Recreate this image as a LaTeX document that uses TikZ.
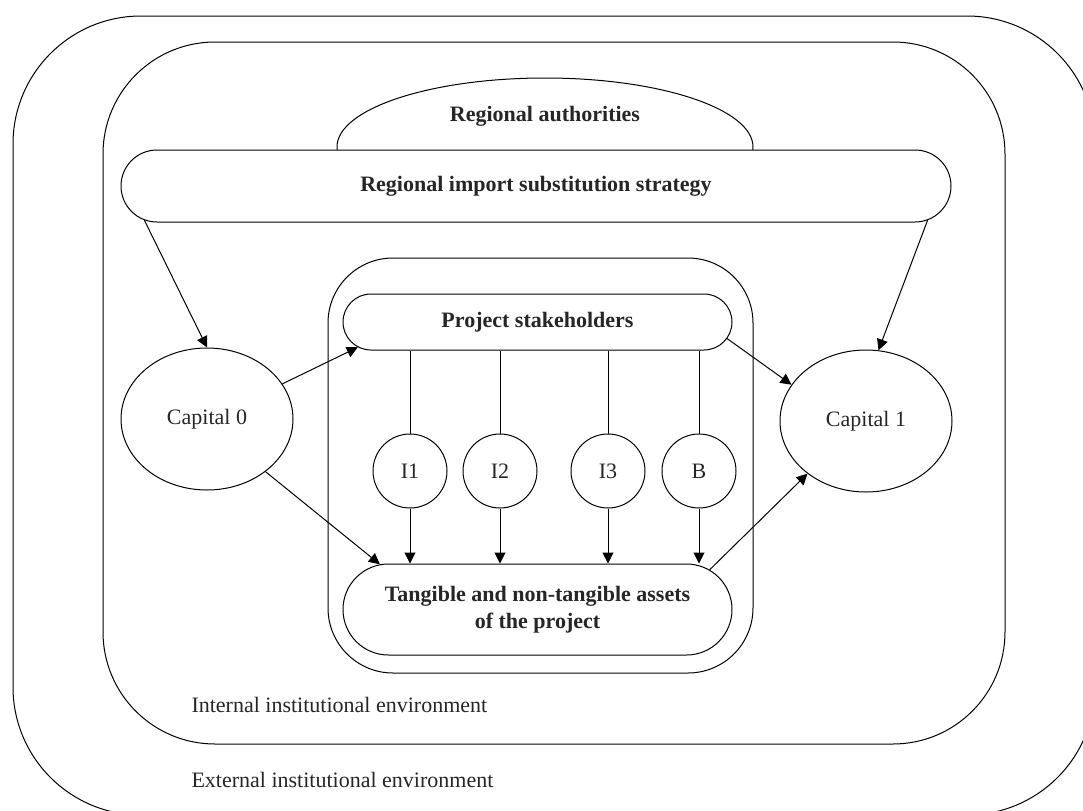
\documentclass[tikz,border=0pt]{standalone}
\usepackage{fontspec}
\setmainfont{Liberation Serif}
\usetikzlibrary{arrows.meta}
\usetikzlibrary{shapes.geometric}
\usetikzlibrary{shapes.misc}
\newcommand{\diagfont}{\fontsize{16.5}{20.25}\selectfont}
\tikzset{every picture/.style={line width=0.75pt}}
\tikzset{
  pill/.style={rounded rectangle, draw, fill=white, inner sep=0pt, align=center, font=\bfseries\diagfont, text=black!85},
  capital/.style={ellipse, draw, inner sep=0pt, minimum width=129pt, minimum height=106.5pt, font=\diagfont, text=black!85},
  actor/.style={circle, draw, inner sep=0pt, minimum size=55.5pt, font=\diagfont, text=black!85},
  plain/.style={inner sep=0.75pt, font=\diagfont, text=black!85},
  flow/.style={-{Triangle[length=8.25pt,width=8.25pt]}}
}

\begin{document}
\begin{tikzpicture}[x=0.75pt,y=0.75pt,yscale=-1,xscale=1]
\useasboundingbox (0,0) rectangle (1083,811);
\clip (0,0) rectangle (1083,811);

%Rounded Rect: external environment
\draw [rounded corners=96pt] (13,16) rectangle (1095,815);
%Rounded Rect: internal environment
\draw [rounded corners=84pt] (103,42) rectangle (1005,744);
%Shape: Ellipse
\node [ellipse, draw, inner sep=0pt, minimum width=312pt, minimum height=103.5pt] (auth) at (545,147) {};
%Rounded Rect: strategy
\node [pill, minimum width=622.5pt, minimum height=54pt] (strat) at (536,186) {Regional import substitution strategy};
%Rounded Rect: project
\draw [rounded corners=48.75pt] (328,258) rectangle (753,673);
%Rounded Rect: stakeholders
\node [pill, minimum width=291.75pt, minimum height=42pt] (stake) at (537.5,322) {Project stakeholders};
%Rounded Rect: assets
\node [pill, minimum width=291.75pt, minimum height=68.25pt] (assets) at (537.5,609.5) {Tangible and non-tangible assets\\of the project};
%Shape: Ellipse
\node [capital] (cap0) at (207,419) {Capital 0};
%Shape: Ellipse
\node [capital] (cap1) at (866,421) {Capital 1};
%Shape: Circle
\node [actor] (i1) at (410,471) {I1};
\node [actor] (i2) at (500,471) {I2};
\node [actor] (i3) at (608,471) {I3};
\node [actor] (b) at (699,471) {B};

% Text Node
\node [plain, font=\bfseries\diagfont] (authlbl) at (545,116) {Regional authorities};
% Text Node
\node [plain, anchor=west] (intlbl) at (190,705) {Internal institutional environment};
% Text Node
\node [plain, anchor=west] (extlbl) at (190,780) {External institutional environment};

%Straight Lines
\draw [flow] (strat.185.5) -- (cap0.north);
\draw [flow] (strat.-5.5) -- (cap1.80);
\draw [flow] (cap0.25) -- (stake.188);
\draw [flow] (stake.-5) -- (cap1.154);
\draw [flow] (cap0.-42) -- (assets.164);
\draw [flow] (assets.13) -- (cap1.-138);
\foreach \n in {i1,i2,i3,b} {
  \draw (stake.south -| \n.north) -- (\n.north);
  \draw [flow] (\n.south) -- (\n.south |- assets.north);
}

\end{tikzpicture}
\end{document}
